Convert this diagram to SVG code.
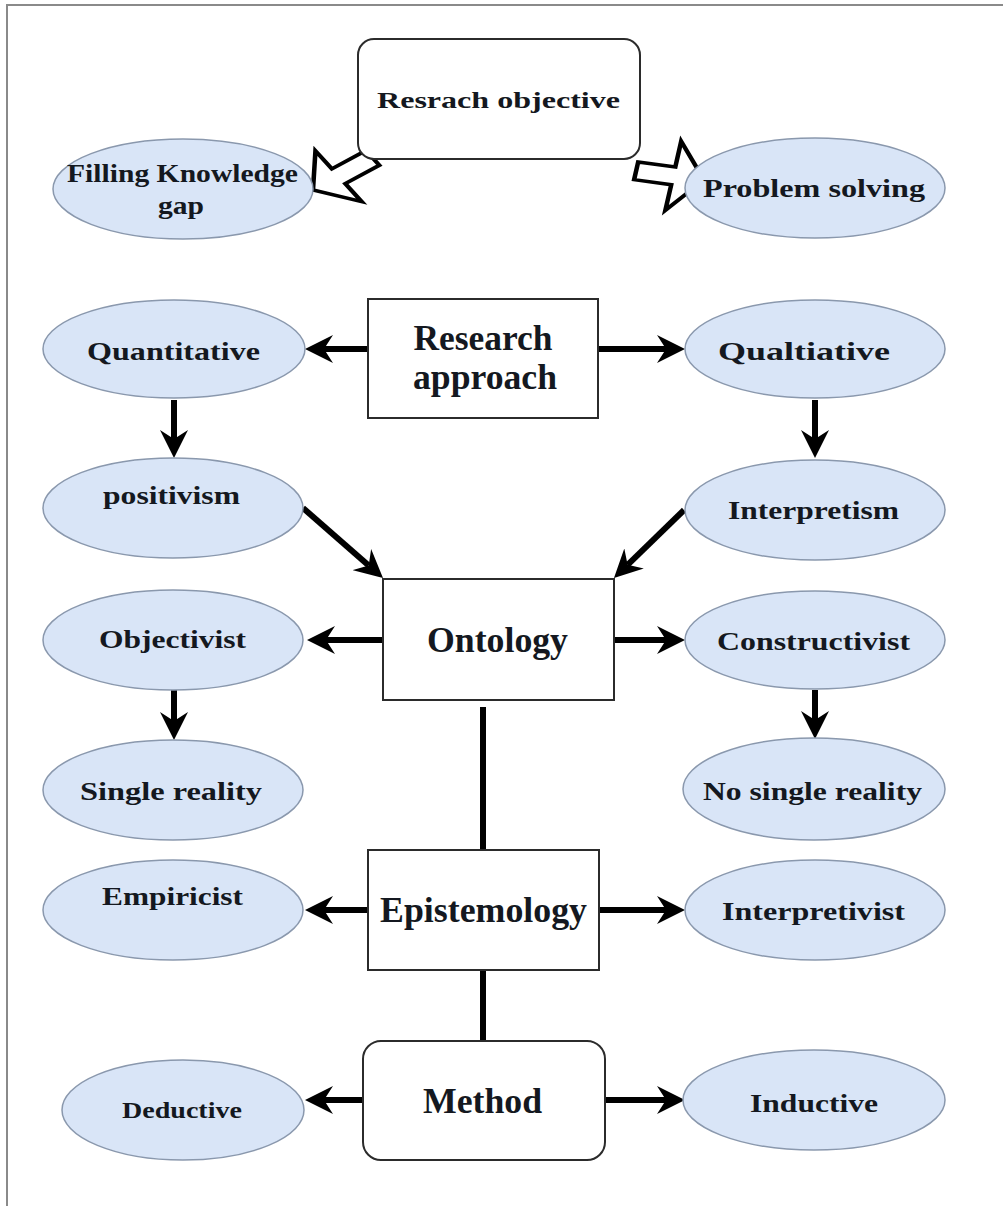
<svg xmlns="http://www.w3.org/2000/svg" width="1003" height="1206" viewBox="0 0 1003 1206">
  <style>
    .ell { fill: #d9e5f7; stroke: #8a98ad; stroke-width: 1.5; }
    .box { fill: #ffffff; stroke: #2b2b2b; stroke-width: 2; }
    .lbl { font-family: "Liberation Serif", "Times New Roman", serif; font-weight: bold; fill: #141820; text-anchor: middle; }
    .s { font-size: 26px; }
    .l { font-size: 35px; }
    .edge { stroke: #000; stroke-width: 6; fill: none; }
    .blk { fill: #ffffff; stroke: #000; stroke-width: 3.5; stroke-linejoin: miter; }
  </style>
  <defs>
    <marker id="head" markerUnits="userSpaceOnUse" markerWidth="28" markerHeight="28" refX="9" refY="14" orient="auto">
      <path d="M0,0 L28,14 L0,28 L9,14 Z" fill="#000"/>
    </marker>
  </defs>

  <rect width="1003" height="1206" fill="#ffffff"/>
  <!-- frame -->
  <path d="M7,1206 V5 H1003" fill="none" stroke="#8a8a8a" stroke-width="2"/>

  <!-- connectors -->
  <g id="connectors">
    <!-- block arrows from the objective box -->
    <polygon class="blk" transform="translate(313,190) scale(1.3,1) rotate(145)" points="-56,-9 -24,-9 -24,-31 0,0 -24,31 -24,9 -56,9"/>
    <polygon class="blk" transform="translate(704,180) scale(1.3,1) rotate(10)" points="-53,-9 -24,-9 -24,-35 0,0 -24,35 -24,9 -53,9"/>

    <line class="edge" x1="368" y1="349" x2="324" y2="349" marker-end="url(#head)"/>
    <line class="edge" x1="598" y1="349" x2="666" y2="349" marker-end="url(#head)"/>
    <line class="edge" x1="174" y1="400" x2="174" y2="439" marker-end="url(#head)"/>
    <line class="edge" x1="815" y1="400" x2="815" y2="439" marker-end="url(#head)"/>
    <line class="edge" x1="303" y1="508" x2="368.7" y2="565.5" marker-end="url(#head)"/>
    <line class="edge" x1="684" y1="510" x2="627.6" y2="564.8" marker-end="url(#head)"/>
    <line class="edge" x1="383" y1="640" x2="326" y2="640" marker-end="url(#head)"/>
    <line class="edge" x1="614" y1="640" x2="666" y2="640" marker-end="url(#head)"/>
    <line class="edge" x1="174" y1="690" x2="174" y2="721" marker-end="url(#head)"/>
    <line class="edge" x1="815" y1="690" x2="815" y2="720" marker-end="url(#head)"/>
    <line class="edge" x1="483" y1="707" x2="483" y2="850"/>
    <line class="edge" x1="368" y1="910" x2="324" y2="910" marker-end="url(#head)"/>
    <line class="edge" x1="599" y1="910" x2="666" y2="910" marker-end="url(#head)"/>
    <line class="edge" x1="483" y1="970" x2="483" y2="1041"/>
    <line class="edge" x1="363" y1="1100" x2="324" y2="1100" marker-end="url(#head)"/>
    <line class="edge" x1="605" y1="1100" x2="666" y2="1100" marker-end="url(#head)"/>
  </g>

  <g id="objective">
    <rect class="box" x="358" y="39" width="282" height="120" rx="16"/>
    <text class="lbl" x="498.5" y="108" font-size="24" textLength="243" lengthAdjust="spacingAndGlyphs">Resrach objective</text>
  </g>
  <g id="knowledge-gap">
    <ellipse class="ell" cx="183" cy="189" rx="130" ry="50"/>
    <text class="lbl s" x="182.5" y="182" textLength="231" lengthAdjust="spacingAndGlyphs">Filling Knowledge</text>
    <text class="lbl s" x="181" y="214" textLength="46" lengthAdjust="spacingAndGlyphs">gap</text>
  </g>
  <g id="problem-solving">
    <ellipse class="ell" cx="815" cy="188" rx="130" ry="50"/>
    <text class="lbl s" x="814" y="197" textLength="222" lengthAdjust="spacingAndGlyphs">Problem solving</text>
  </g>

  <g id="research-approach">
    <rect class="box" x="368" y="299" width="230" height="119"/>
    <text class="lbl l" x="483" y="350" textLength="139" lengthAdjust="spacingAndGlyphs">Research</text>
    <text class="lbl l" x="485" y="389" textLength="144" lengthAdjust="spacingAndGlyphs">approach</text>
  </g>
  <g id="quantitative">
    <ellipse class="ell" cx="174" cy="349" rx="131" ry="49"/>
    <text class="lbl s" x="173.5" y="360" textLength="173" lengthAdjust="spacingAndGlyphs">Quantitative</text>
  </g>
  <g id="qualitative">
    <ellipse class="ell" cx="815" cy="349" rx="130" ry="49"/>
    <text class="lbl s" x="804" y="360" textLength="172" lengthAdjust="spacingAndGlyphs">Qualtiative</text>
  </g>
  <g id="positivism">
    <ellipse class="ell" cx="173" cy="508" rx="130" ry="50"/>
    <text class="lbl s" x="171.5" y="504" textLength="137" lengthAdjust="spacingAndGlyphs">positivism</text>
  </g>
  <g id="interpretism">
    <ellipse class="ell" cx="815" cy="510" rx="130" ry="50"/>
    <text class="lbl s" x="813.5" y="519" textLength="171" lengthAdjust="spacingAndGlyphs">Interpretism</text>
  </g>

  <g id="ontology">
    <rect class="box" x="383" y="579" width="231" height="121"/>
    <text class="lbl l" x="497.5" y="652" textLength="141" lengthAdjust="spacingAndGlyphs">Ontology</text>
  </g>
  <g id="objectivist">
    <ellipse class="ell" cx="173" cy="640" rx="130" ry="50"/>
    <text class="lbl s" x="172.5" y="648" textLength="147" lengthAdjust="spacingAndGlyphs">Objectivist</text>
  </g>
  <g id="constructivist">
    <ellipse class="ell" cx="815" cy="640" rx="130" ry="49"/>
    <text class="lbl s" x="813.5" y="650" textLength="193" lengthAdjust="spacingAndGlyphs">Constructivist</text>
  </g>
  <g id="single-reality">
    <ellipse class="ell" cx="173" cy="790" rx="130" ry="50"/>
    <text class="lbl s" x="171" y="800" textLength="182" lengthAdjust="spacingAndGlyphs">Single reality</text>
  </g>
  <g id="no-single-reality">
    <ellipse class="ell" cx="814" cy="789" rx="131" ry="51"/>
    <text class="lbl s" x="812.5" y="800" textLength="219" lengthAdjust="spacingAndGlyphs">No single reality</text>
  </g>

  <g id="epistemology">
    <rect class="box" x="368" y="850" width="231" height="120"/>
    <text class="lbl l" x="483.5" y="922" textLength="207" lengthAdjust="spacingAndGlyphs">Epistemology</text>
  </g>
  <g id="empiricist">
    <ellipse class="ell" cx="173" cy="910" rx="130" ry="50"/>
    <text class="lbl s" x="172.5" y="905" textLength="141" lengthAdjust="spacingAndGlyphs">Empiricist</text>
  </g>
  <g id="interpretivist">
    <ellipse class="ell" cx="815" cy="910" rx="130" ry="50"/>
    <text class="lbl s" x="813.5" y="920" textLength="183" lengthAdjust="spacingAndGlyphs">Interpretivist</text>
  </g>

  <g id="method">
    <rect class="box" x="363" y="1041" width="242" height="119" rx="18"/>
    <text class="lbl l" x="482.5" y="1113" textLength="119" lengthAdjust="spacingAndGlyphs">Method</text>
  </g>
  <g id="deductive">
    <ellipse class="ell" cx="183" cy="1110" rx="121" ry="50"/>
    <text class="lbl" x="182" y="1118" font-size="23" textLength="120" lengthAdjust="spacingAndGlyphs">Deductive</text>
  </g>
  <g id="inductive">
    <ellipse class="ell" cx="814" cy="1100" rx="131" ry="50"/>
    <text class="lbl s" x="814" y="1112" textLength="128" lengthAdjust="spacingAndGlyphs">Inductive</text>
  </g>
</svg>
